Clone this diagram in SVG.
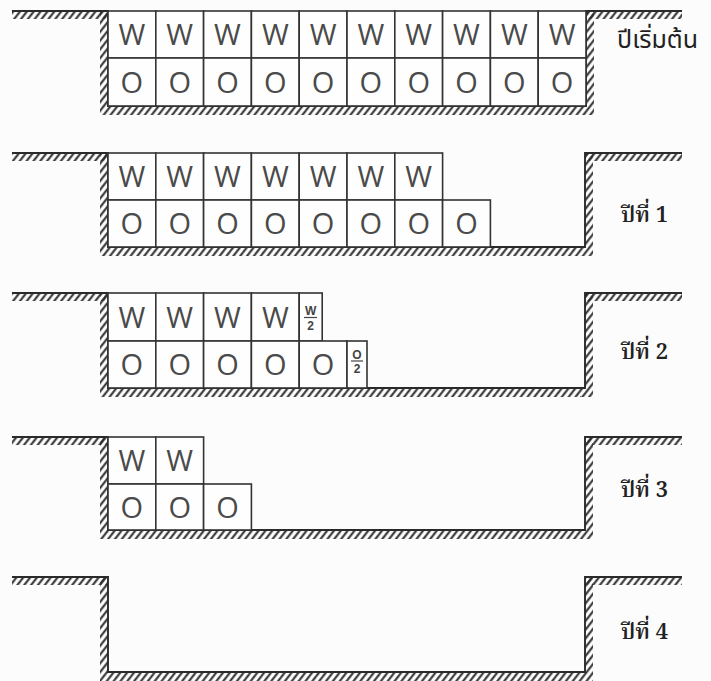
<svg xmlns="http://www.w3.org/2000/svg" width="711" height="681" viewBox="0 0 711 681">
<defs>
<pattern id="hatch" width="5.4" height="12" patternUnits="userSpaceOnUse" patternTransform="rotate(38)">
<line x1="1.3" y1="0" x2="1.3" y2="12" stroke="#2a2a2a" stroke-width="2"/>
</pattern>
</defs>
<style>
.bg{fill:#fcfcfc}
.h{fill:url(#hatch)}
.gnd{fill:none;stroke:#2a2a2a;stroke-width:1.9}
.cell{fill:#fefefe;stroke:#333;stroke-width:1.6}
.t{font-family:"Open Sans","Liberation Sans",sans-serif;font-size:29px;fill:#4a4a4a;text-anchor:middle}
.f{font-family:"Liberation Sans",sans-serif;font-size:12px;font-weight:bold;fill:#444;text-anchor:middle}
.fl{stroke:#444;stroke-width:1.2}
.lbl{font-family:"Noto Sans Thai","Noto Sans","DejaVu Sans",sans-serif;font-size:25px;fill:#222}
.lbl2{font-family:"Noto Serif Thai","Noto Sans Thai","Liberation Serif",serif;font-size:22px;font-weight:600;fill:#222}
</style>
<rect class="bg" x="0" y="0" width="711" height="681"/>

<!-- Panel 0: start -->
<g id="pit0">
<rect class="h" x="12" y="11" width="96" height="8"/>
<rect class="h" x="100" y="11" width="8" height="95"/>
<rect class="h" x="100" y="106" width="494" height="9"/>
<rect class="h" x="586" y="11" width="8" height="95"/>
<rect class="h" x="586" y="11" width="96" height="8"/>
<polyline class="gnd" points="12,11 108,11 108,106 586,106 586,11 682,11"/>
</g>
<g id="cells0">
<g id="c0w0"><rect class="cell" x="108" y="11" width="47.8" height="47"/><text class="t" x="131.9" y="45">W</text></g>
<g id="c0w1"><rect class="cell" x="155.8" y="11" width="47.8" height="47"/><text class="t" x="179.7" y="45">W</text></g>
<g id="c0w2"><rect class="cell" x="203.6" y="11" width="47.8" height="47"/><text class="t" x="227.5" y="45">W</text></g>
<g id="c0w3"><rect class="cell" x="251.4" y="11" width="47.8" height="47"/><text class="t" x="275.3" y="45">W</text></g>
<g id="c0w4"><rect class="cell" x="299.2" y="11" width="47.8" height="47"/><text class="t" x="323.1" y="45">W</text></g>
<g id="c0w5"><rect class="cell" x="347" y="11" width="47.8" height="47"/><text class="t" x="370.9" y="45">W</text></g>
<g id="c0w6"><rect class="cell" x="394.8" y="11" width="47.8" height="47"/><text class="t" x="418.7" y="45">W</text></g>
<g id="c0w7"><rect class="cell" x="442.6" y="11" width="47.8" height="47"/><text class="t" x="466.5" y="45">W</text></g>
<g id="c0w8"><rect class="cell" x="490.4" y="11" width="47.8" height="47"/><text class="t" x="514.3" y="45">W</text></g>
<g id="c0w9"><rect class="cell" x="538.2" y="11" width="47.8" height="47"/><text class="t" x="562.1" y="45">W</text></g>
<g id="c0o0"><rect class="cell" x="108" y="58" width="47.8" height="48"/><text class="t" x="131.9" y="93">O</text></g>
<g id="c0o1"><rect class="cell" x="155.8" y="58" width="47.8" height="48"/><text class="t" x="179.7" y="93">O</text></g>
<g id="c0o2"><rect class="cell" x="203.6" y="58" width="47.8" height="48"/><text class="t" x="227.5" y="93">O</text></g>
<g id="c0o3"><rect class="cell" x="251.4" y="58" width="47.8" height="48"/><text class="t" x="275.3" y="93">O</text></g>
<g id="c0o4"><rect class="cell" x="299.2" y="58" width="47.8" height="48"/><text class="t" x="323.1" y="93">O</text></g>
<g id="c0o5"><rect class="cell" x="347" y="58" width="47.8" height="48"/><text class="t" x="370.9" y="93">O</text></g>
<g id="c0o6"><rect class="cell" x="394.8" y="58" width="47.8" height="48"/><text class="t" x="418.7" y="93">O</text></g>
<g id="c0o7"><rect class="cell" x="442.6" y="58" width="47.8" height="48"/><text class="t" x="466.5" y="93">O</text></g>
<g id="c0o8"><rect class="cell" x="490.4" y="58" width="47.8" height="48"/><text class="t" x="514.3" y="93">O</text></g>
<g id="c0o9"><rect class="cell" x="538.2" y="58" width="47.8" height="48"/><text class="t" x="562.1" y="93">O</text></g>
</g>
<text id="lbl0" class="lbl" x="617" y="48">ปีเริ่มต้น</text>

<!-- Panel 1 -->
<g id="pit1">
<rect class="h" x="12" y="153" width="96" height="8"/>
<rect class="h" x="100" y="153" width="8" height="94"/>
<rect class="h" x="100" y="247" width="493" height="9"/>
<rect class="h" x="585" y="153" width="8" height="94"/>
<rect class="h" x="585" y="153" width="97" height="8"/>
<polyline class="gnd" points="12,153 108,153 108,247 585,247 585,153 682,153"/>
</g>
<g id="cells1">
<g id="c1w0"><rect class="cell" x="108" y="153" width="47.8" height="47"/><text class="t" x="131.9" y="187">W</text></g>
<g id="c1w1"><rect class="cell" x="155.8" y="153" width="47.8" height="47"/><text class="t" x="179.7" y="187">W</text></g>
<g id="c1w2"><rect class="cell" x="203.6" y="153" width="47.8" height="47"/><text class="t" x="227.5" y="187">W</text></g>
<g id="c1w3"><rect class="cell" x="251.4" y="153" width="47.8" height="47"/><text class="t" x="275.3" y="187">W</text></g>
<g id="c1w4"><rect class="cell" x="299.2" y="153" width="47.8" height="47"/><text class="t" x="323.1" y="187">W</text></g>
<g id="c1w5"><rect class="cell" x="347" y="153" width="47.8" height="47"/><text class="t" x="370.9" y="187">W</text></g>
<g id="c1w6"><rect class="cell" x="394.8" y="153" width="47.8" height="47"/><text class="t" x="418.7" y="187">W</text></g>
<g id="c1o0"><rect class="cell" x="108" y="200" width="47.8" height="47"/><text class="t" x="131.9" y="234">O</text></g>
<g id="c1o1"><rect class="cell" x="155.8" y="200" width="47.8" height="47"/><text class="t" x="179.7" y="234">O</text></g>
<g id="c1o2"><rect class="cell" x="203.6" y="200" width="47.8" height="47"/><text class="t" x="227.5" y="234">O</text></g>
<g id="c1o3"><rect class="cell" x="251.4" y="200" width="47.8" height="47"/><text class="t" x="275.3" y="234">O</text></g>
<g id="c1o4"><rect class="cell" x="299.2" y="200" width="47.8" height="47"/><text class="t" x="323.1" y="234">O</text></g>
<g id="c1o5"><rect class="cell" x="347" y="200" width="47.8" height="47"/><text class="t" x="370.9" y="234">O</text></g>
<g id="c1o6"><rect class="cell" x="394.8" y="200" width="47.8" height="47"/><text class="t" x="418.7" y="234">O</text></g>
<g id="c1o7"><rect class="cell" x="442.6" y="200" width="47.8" height="47"/><text class="t" x="466.5" y="234">O</text></g>
</g>
<text id="lbl1" class="lbl2" x="621" y="222">ปีที่ 1</text>

<!-- Panel 2 -->
<g id="pit2">
<rect class="h" x="12" y="293" width="96" height="8"/>
<rect class="h" x="100" y="293" width="8" height="95"/>
<rect class="h" x="100" y="388" width="493" height="9"/>
<rect class="h" x="585" y="293" width="8" height="95"/>
<rect class="h" x="585" y="293" width="97" height="8"/>
<polyline class="gnd" points="12,293 108,293 108,388 585,388 585,293 682,293"/>
</g>
<g id="cells2">
<g id="c2w0"><rect class="cell" x="108" y="293" width="47.8" height="48"/><text class="t" x="131.9" y="328">W</text></g>
<g id="c2w1"><rect class="cell" x="155.8" y="293" width="47.8" height="48"/><text class="t" x="179.7" y="328">W</text></g>
<g id="c2w2"><rect class="cell" x="203.6" y="293" width="47.8" height="48"/><text class="t" x="227.5" y="328">W</text></g>
<g id="c2w3"><rect class="cell" x="251.4" y="293" width="47.8" height="48"/><text class="t" x="275.3" y="328">W</text></g>
<g id="c2wh"><rect class="cell" x="299.2" y="293" width="23" height="48"/><text class="f" x="310.7" y="315">W</text><line class="fl" x1="304" y1="317.5" x2="317" y2="317.5"/><text class="f" x="310.7" y="330">2</text></g>
<g id="c2o0"><rect class="cell" x="108" y="341" width="47.8" height="47"/><text class="t" x="131.9" y="375">O</text></g>
<g id="c2o1"><rect class="cell" x="155.8" y="341" width="47.8" height="47"/><text class="t" x="179.7" y="375">O</text></g>
<g id="c2o2"><rect class="cell" x="203.6" y="341" width="47.8" height="47"/><text class="t" x="227.5" y="375">O</text></g>
<g id="c2o3"><rect class="cell" x="251.4" y="341" width="47.8" height="47"/><text class="t" x="275.3" y="375">O</text></g>
<g id="c2o4"><rect class="cell" x="299.2" y="341" width="47.8" height="47"/><text class="t" x="323.1" y="375">O</text></g>
<g id="c2oh"><rect class="cell" x="347" y="341" width="20" height="47"/><text class="f" x="357" y="359">O</text><line class="fl" x1="351" y1="361" x2="363" y2="361"/><text class="f" x="357" y="373">2</text></g>
</g>
<text id="lbl2" class="lbl2" x="621" y="359">ปีที่ 2</text>

<!-- Panel 3 -->
<g id="pit3">
<rect class="h" x="12" y="437" width="96" height="8"/>
<rect class="h" x="100" y="437" width="8" height="93"/>
<rect class="h" x="100" y="530" width="493" height="9"/>
<rect class="h" x="585" y="437" width="8" height="93"/>
<rect class="h" x="585" y="437" width="97" height="8"/>
<polyline class="gnd" points="12,437 108,437 108,530 585,530 585,437 682,437"/>
</g>
<g id="cells3">
<g id="c3w0"><rect class="cell" x="108" y="437" width="47.8" height="47"/><text class="t" x="131.9" y="471">W</text></g>
<g id="c3w1"><rect class="cell" x="155.8" y="437" width="47.8" height="47"/><text class="t" x="179.7" y="471">W</text></g>
<g id="c3o0"><rect class="cell" x="108" y="484" width="47.8" height="46"/><text class="t" x="131.9" y="518">O</text></g>
<g id="c3o1"><rect class="cell" x="155.8" y="484" width="47.8" height="46"/><text class="t" x="179.7" y="518">O</text></g>
<g id="c3o2"><rect class="cell" x="203.6" y="484" width="47.8" height="46"/><text class="t" x="227.5" y="518">O</text></g>
</g>
<text id="lbl3" class="lbl2" x="621" y="497">ปีที่ 3</text>

<!-- Panel 4 -->
<g id="pit4">
<rect class="h" x="12" y="577" width="96" height="8"/>
<rect class="h" x="100" y="577" width="8" height="95"/>
<rect class="h" x="100" y="672" width="493" height="9"/>
<rect class="h" x="585" y="577" width="8" height="95"/>
<rect class="h" x="585" y="577" width="97" height="8"/>
<polyline class="gnd" points="12,577 108,577 108,672 585,672 585,577 682,577"/>
</g>
<text id="lbl4" class="lbl2" x="621" y="639">ปีที่ 4</text>
</svg>
